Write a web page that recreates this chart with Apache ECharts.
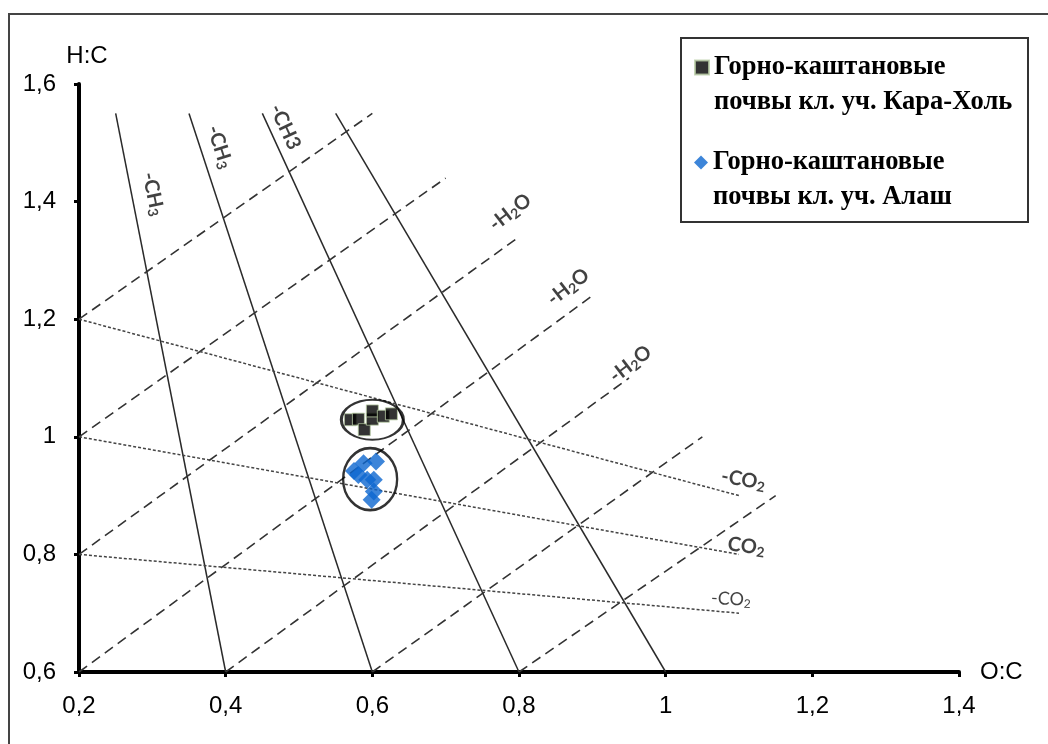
<!DOCTYPE html>
<html><head><meta charset="utf-8">
<script src="https://cdn.jsdelivr.net/npm/echarts@6/dist/echarts.min.js"></script>
<style>html,body{margin:0;padding:0;background:#fff}#c{width:1048px;height:744px}</style>
</head><body><div id="c"></div>
<script>
// ---- data ----
const xTickLabels = ['0,2','0,4','0,6','0,8','1','1,2','1,4'];
const yTickLabels = ['0,6','0,8','1','1,2','1,4','1,6'];
const seriesNames = ['Горно-каштановые почвы кл. уч. Кара-Холь', 'Горно-каштановые почвы кл. уч. Алаш'];
const legendLines = [['Горно-каштановые', 'почвы кл. уч. Кара-Холь'], ['Горно-каштановые', 'почвы кл. уч. Алаш']];

const karaX = [0.570, 0.581, 0.589, 0.600, 0.600, 0.615, 0.626];
const karaY = [1.029, 1.030, 1.012, 1.030, 1.044, 1.035, 1.039];
const alashX = [0.605, 0.575, 0.588, 0.593, 0.602, 0.602, 0.599, 0.581];
const alashY = [0.958, 0.942, 0.955, 0.927, 0.927, 0.907, 0.893, 0.935];

// ellipse centres around the two clusters
const ellipseCenters = [[0.600, 1.029], [0.597, 0.928]];

// van Krevelen reference lines (start / end points)
const ch3Start = [[0.4, 0.6], [0.6, 0.6], [0.8, 0.6], [1.0, 0.6]];
const ch3End   = [[0.25, 1.55], [0.35, 1.55], [0.45, 1.55], [0.55, 1.55]];
const h2oStart = [[0.2, 1.2], [0.2, 1.0], [0.2, 0.8], [0.2, 0.6], [0.4, 0.6], [0.6, 0.6], [0.8, 0.6]];
const h2oEnd   = [[0.6, 1.55], [0.7, 1.44], [0.8, 1.34], [0.9, 1.24], [0.95, 1.10], [1.05, 1.0], [1.15, 0.9]];
const co2Start = [[0.2, 1.2], [0.2, 1.0], [0.2, 0.8]];
const co2End   = [[1.1, 0.9], [1.1, 0.8], [1.1, 0.7]];

// line annotations: [main text, subscript, trailing text]
const ch3Text = [['-CH', '3', ''], ['-CH', '3', ''], ['-CH3', '', '']];
const ch3At   = [[0.301, 1.413], [0.392, 1.493], [0.481, 1.527]];
const h2oText = [['-H', '2', 'O'], ['-H', '2', 'O'], ['-H', '2', 'O']];
const h2oAt   = [[0.788, 1.382], [0.867, 1.255], [0.952, 1.124]];
const co2Text = [['-CO', '2', ''], ['CO', '2', ''], ['-CO', '2', '']];
const co2At   = [[1.106, 0.927], [1.110, 0.814], [1.089, 0.724]];

// ---- styling ----
const ch3Rot = [-78, -72, -65];
const co2Rot = [-10, -7, -3];
const co2Size = [20, 20, 18];
const co2Weight = ['bold', 'bold', 'normal'];
const annFont = "Lato, 'Noto Sans', 'DejaVu Sans', sans-serif";

function lineSeries(starts, ends, style) {
  return starts.map((s, i) => ({
    type: 'line', data: [s, ends[i]], symbol: 'none', silent: true,
    lineStyle: style, z: 1, animation: false
  }));
}
function richText(parts) {
  let s = '{a|' + parts[0] + '}';
  if (parts[1]) s += '{s|' + parts[1] + '}';
  if (parts[2]) s += '{a|' + parts[2] + '}';
  return s;
}
function annSeries(texts, at, rots, sizes, weights) {
  return {
    type: 'scatter', symbolSize: 0, silent: true, z: 5, animation: false,
    data: texts.map((t, i) => {
      const fs = sizes ? sizes[i] : 20;
      const fw = weights ? weights[i] : 'bold';
      return {
        value: at[i],
        label: { show: true, position: 'inside', formatter: richText(t), rotate: rots[i],
          rich: {
            a: { fontSize: fs, fontWeight: fw, fontFamily: annFont, color: '#111', lineHeight: fs + 4 },
            s: { fontSize: Math.round(fs * 0.68), fontWeight: fw, fontFamily: annFont, color: '#111',
                 padding: [Math.round(fs * 0.45), 0, 0, 0] }
          }
        }
      };
    })
  };
}

const series = [].concat(
  lineSeries(ch3Start, ch3End, { color: '#2a2a2a', width: 1.5, type: 'solid' }),
  lineSeries(h2oStart, h2oEnd, { color: '#333', width: 1.6, type: [10, 6] }),
  lineSeries(co2Start, co2End, { color: '#444', width: 1.5, type: [3, 2] }),
  [
    annSeries(ch3Text, ch3At, ch3Rot),
    annSeries(h2oText, h2oAt, [38, 38, 38]),
    annSeries(co2Text, co2At, co2Rot, co2Size, co2Weight),
    {
      name: seriesNames[0], type: 'scatter', symbol: 'rect', symbolSize: 12, z: 10,
      itemStyle: { color: '#000', borderColor: '#b9cda5', borderWidth: 1 },
      data: karaX.map((x, i) => [x, karaY[i]])
    },
    {
      name: seriesNames[1], type: 'scatter', symbol: 'diamond', symbolSize: 18, z: 10,
      itemStyle: { color: '#0d66d0' },
      data: alashX.map((x, i) => [x, alashY[i]])
    },
    {
      type: 'scatter', silent: true, z: 11,
      symbol: 'circle',
      itemStyle: { color: 'rgba(0,0,0,0)', borderColor: '#000', borderWidth: 2.5 },
      data: [
        { value: ellipseCenters[0], symbolSize: [62, 40] },
        { value: ellipseCenters[1], symbolSize: [54, 62] }
      ]
    }
  ]
);

const legendText = { fontFamily: "'Liberation Serif', 'Times New Roman', serif", fontWeight: 'bold', fontSize: 26.5, lineHeight: 35, color: '#000' };
function mkLegend(i, top) {
  return {
    data: [seriesNames[i]], left: 694, top: top, orient: 'vertical', padding: 0,
    itemWidth: 14, itemHeight: 14, selectedMode: false,
    formatter: () => '\n' + legendLines[i].join('\n'),
    textStyle: legendText
  };
}

const axisFont = "'Liberation Sans', Arial, sans-serif";
const chart = echarts.init(document.getElementById('c'), null, { renderer: 'canvas' });
chart.setOption({
  animation: false,
  backgroundColor: '#fff',
  grid: { left: 79, top: 84, right: 89, bottom: 72, containLabel: false },
  xAxis: {
    type: 'value', min: 0.2, max: 1.4, interval: 0.2,
    name: 'O:C', nameLocation: 'end', nameGap: 21,
    nameTextStyle: { fontFamily: axisFont, fontSize: 24, color: '#000', padding: [0, 0, 6, 0] },
    axisLine: { lineStyle: { color: '#000', width: 4 } },
    axisTick: { show: true, length: 5, lineStyle: { color: '#000', width: 3 } },
    axisLabel: { margin: 22, fontFamily: axisFont, fontSize: 24, color: '#000',
      formatter: (v, i) => xTickLabels[i] },
    splitLine: { show: false }
  },
  yAxis: {
    type: 'value', min: 0.6, max: 1.6, interval: 0.2,
    name: 'H:C', nameLocation: 'end', nameGap: 16,
    nameTextStyle: { fontFamily: axisFont, fontSize: 24, color: '#000', padding: [0, 0, 0, 16] },
    axisLine: { lineStyle: { color: '#000', width: 4 } },
    axisTick: { show: true, length: 5, lineStyle: { color: '#000', width: 3 } },
    axisLabel: { margin: 23, fontFamily: axisFont, fontSize: 24, color: '#000',
      formatter: (v, i) => yTickLabels[i] },
    splitLine: { show: false }
  },
  legend: [mkLegend(0, 15), mkLegend(1, 110)],
  graphic: [
    { type: 'rect', shape: { x: 9, y: 14, width: 1200, height: 900 }, style: { fill: 'none', stroke: '#444', lineWidth: 2 }, z: -1, silent: true },
    { type: 'rect', shape: { x: 681, y: 38, width: 347, height: 184 }, style: { fill: '#fff', stroke: '#333', lineWidth: 2 }, z: -1, silent: true }
  ],
  series: series
});
</script>
</body></html>
